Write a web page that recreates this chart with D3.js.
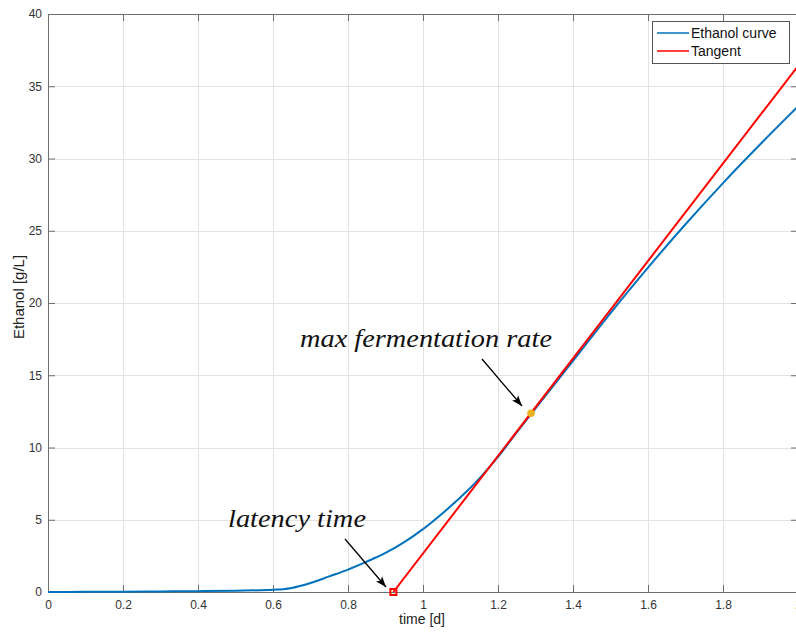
<!DOCTYPE html>
<html>
<head>
<meta charset="utf-8">
<title>Ethanol curve</title>
<script src="https://cdn.jsdelivr.net/npm/d3@7"></script>
<style>
  body { margin: 0; background: #fff; }
  svg { display: block; font-family: "Liberation Sans", Arial, sans-serif; }
</style>
</head>
<body>
<svg id="chart" width="796" height="632"></svg>
<script>
// data
var time    = [0, 0.1, 0.2, 0.3, 0.4, 0.5, 0.6, 0.65, 0.7, 0.75, 0.8, 0.85, 0.9, 0.95, 1.0, 1.05, 1.1, 1.15, 1.2, 1.25, 1.3, 1.35, 1.4, 1.45, 1.5, 1.6, 1.7, 1.8, 1.9, 2.0];
var ethanol = [0, 0.01, 0.02, 0.04, 0.06, 0.09, 0.15, 0.28, 0.62, 1.08, 1.55, 2.1, 2.7, 3.45, 4.35, 5.4, 6.55, 7.85, 9.35, 11.05, 12.7, 14.35, 16.0, 17.65, 19.3, 22.45, 25.45, 28.3, 31.0, 33.6];
var tangentT = [0.921, 2.0];
var tangentY = [0, 36.4];
var maxRatePoint = [1.288, 12.37];
var latencyPoint = [0.921, 0];
var xTicks = [0, 0.2, 0.4, 0.6, 0.8, 1, 1.2, 1.4, 1.6, 1.8, 2];
var yTicks = [0, 5, 10, 15, 20, 25, 30, 35, 40];
var legendLabels = ["Ethanol curve", "Tangent"];

(function() {
var svg = d3.select("#chart");
var pLeft = 48, pRight = 798, pTop = 14, pBottom = 592;

var x = d3.scaleLinear().domain([0, 2]).range([pLeft, pRight]);
var y = d3.scaleLinear().domain([0, 40]).range([pBottom, pTop]);

// grid
var grid = svg.append("g").attr("stroke", "#e3e3e3").attr("stroke-width", 1);
grid.selectAll("line.gx").data(xTicks).enter().append("line")
    .attr("x1", function(d) { return Math.round(x(d)) + 0.5; })
    .attr("x2", function(d) { return Math.round(x(d)) + 0.5; })
    .attr("y1", pTop).attr("y2", pBottom);
grid.selectAll("line.gy").data(yTicks).enter().append("line")
    .attr("y1", function(d) { return Math.round(y(d)) + 0.5; })
    .attr("y2", function(d) { return Math.round(y(d)) + 0.5; })
    .attr("x1", pLeft).attr("x2", pRight);

// axes (MATLAB box style, ticks inside)
function styleAxis(g) {
  g.select(".domain").attr("stroke", "#6e6e6e");
  g.selectAll(".tick line").attr("stroke", "#6e6e6e");
  g.selectAll(".tick text").attr("fill", "#333").style("font-size", "12px");
}
svg.append("g").attr("transform", "translate(0," + pBottom + ")")
    .call(d3.axisBottom(x).tickValues(xTicks).tickSizeInner(-7).tickSizeOuter(0).tickPadding(8)
      .tickFormat(d3.format("")))
    .call(styleAxis);
svg.append("g").attr("transform", "translate(0," + pTop + ")")
    .call(d3.axisTop(x).tickValues(xTicks).tickSizeInner(-7).tickSizeOuter(0).tickFormat(""))
    .call(styleAxis);
svg.append("g").attr("transform", "translate(" + pLeft + ",0)")
    .call(d3.axisLeft(y).tickValues(yTicks).tickSizeInner(-7).tickSizeOuter(0).tickPadding(6))
    .call(styleAxis);
svg.append("g").attr("transform", "translate(" + pRight + ",0)")
    .call(d3.axisRight(y).tickValues(yTicks).tickSizeInner(-7).tickSizeOuter(0).tickFormat(""))
    .call(styleAxis);

// axis labels
svg.append("text").attr("x", 422).attr("y", 624).attr("text-anchor", "middle")
    .attr("fill", "#222").style("font-size", "14px").text("time [d]");
svg.append("text").attr("transform", "translate(24,297) rotate(-90)").attr("text-anchor", "middle")
    .attr("fill", "#222").style("font-size", "15px").text("Ethanol [g/L]");

// curves
var line = d3.line().curve(d3.curveMonotoneX)
    .x(function(d) { return x(d[0]); }).y(function(d) { return y(d[1]); });
svg.append("path").datum(d3.zip(time, ethanol))
    .attr("d", line).attr("fill", "none").attr("stroke", "#0072BD").attr("stroke-width", 2)
    .attr("stroke-linejoin", "round");
svg.append("path").datum(d3.zip(tangentT, tangentY))
    .attr("d", line).attr("fill", "none").attr("stroke", "#FF0000").attr("stroke-width", 2);

// markers
svg.append("circle").attr("cx", x(maxRatePoint[0])).attr("cy", y(maxRatePoint[1])).attr("r", 3.8)
    .attr("fill", "#EDB120");
svg.append("rect").attr("x", x(latencyPoint[0]) - 3).attr("y", y(latencyPoint[1]) - 3)
    .attr("width", 6).attr("height", 6).attr("fill", "none").attr("stroke", "#FF0000").attr("stroke-width", 2);

// annotations
var defs = svg.append("defs");
defs.append("marker").attr("id", "arrow").attr("viewBox", "0 0 12 10").attr("refX", 12).attr("refY", 5)
    .attr("markerWidth", 11).attr("markerHeight", 9).attr("orient", "auto").attr("markerUnits", "userSpaceOnUse")
  .append("path").attr("d", "M0,0.5 L12,5 L0,9.5 L3,5 Z").attr("fill", "#000");

svg.append("line").attr("x1", 482).attr("y1", 359).attr("x2", 522).attr("y2", 406)
    .attr("stroke", "#000").attr("stroke-width", 1.3).attr("marker-end", "url(#arrow)");
svg.append("line").attr("x1", 345).attr("y1", 539).attr("x2", 386).attr("y2", 587)
    .attr("stroke", "#000").attr("stroke-width", 1.3).attr("marker-end", "url(#arrow)");

svg.append("text").attr("x", 300).attr("y", 347).attr("fill", "#111")
    .style("font-family", "'Liberation Serif', 'DejaVu Serif', serif").style("font-style", "italic")
    .style("font-size", "25px").attr("textLength", 252).attr("lengthAdjust", "spacingAndGlyphs")
    .text("max fermentation rate");
svg.append("text").attr("x", 228).attr("y", 527).attr("fill", "#111")
    .style("font-family", "'Liberation Serif', 'DejaVu Serif', serif").style("font-style", "italic")
    .style("font-size", "25px").attr("textLength", 138).attr("lengthAdjust", "spacingAndGlyphs")
    .text("latency time");

// legend
var lg = svg.append("g").attr("transform", "translate(652,21)");
lg.append("rect").attr("x", 0.5).attr("y", 0.5).attr("width", 137).attr("height", 42)
    .attr("fill", "#fff").attr("stroke", "#555").attr("stroke-width", 1);
var legendColors = ["#0072BD", "#FF0000"];
legendLabels.forEach(function(lbl, i) {
  var yy = 12 + i * 18;
  lg.append("line").attr("x1", 5).attr("x2", 37).attr("y1", yy).attr("y2", yy)
      .attr("stroke", legendColors[i]).attr("stroke-width", 1.5);
  lg.append("text").attr("x", 39).attr("y", yy + 5).attr("fill", "#111")
      .style("font-size", "14px").text(lbl);
});
})();
</script>
</body>
</html>
